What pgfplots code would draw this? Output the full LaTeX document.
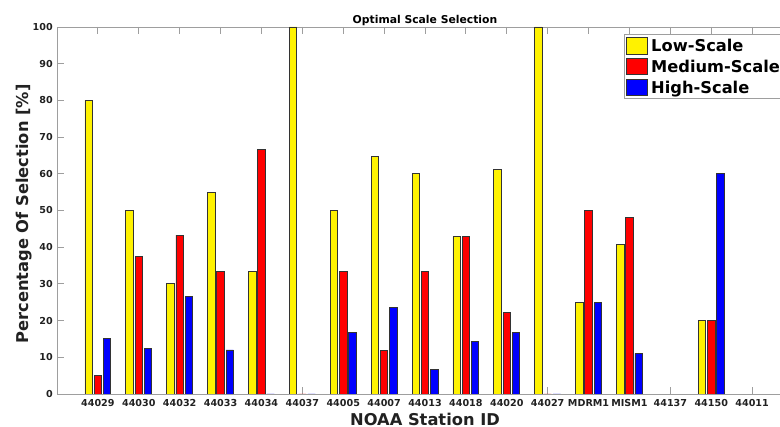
\documentclass[border=0pt]{standalone}
\usepackage{pgfplots}
\pgfplotsset{compat=1.18}
\usepackage{fontspec}
\setmainfont{DejaVu Sans}

\definecolor{edgegray}{gray}{0.2}
\definecolor{axisgray}{gray}{0.62}
\definecolor{textgray}{gray}{0.13}

\pgfplotsset{
  sqlegend/.style={legend image code/.code={\draw[##1] (0pt,-6.25pt) rectangle (15.75pt,6.25pt);}},
}

\begin{document}
\begin{tikzpicture}
\useasboundingbox (0,0) rectangle (585pt,320.25pt);
\clip (0,0) rectangle (585pt,320.25pt);
\begin{axis}[
  at={(42.75pt,24.75pt)}, anchor=south west,
  scale only axis, width=552pt, height=275.25pt,
  ybar=1.3pt, bar width=5.6pt,
  xmin=0, xmax=18, ymin=0, ymax=100,
  xtick={1,...,17},
  xticklabels={\textbf{44029},\textbf{44030},\textbf{44032},\textbf{44033},\textbf{44034},\textbf{44037},\textbf{44005},\textbf{44007},\textbf{44013},\textbf{44018},\textbf{44020},\textbf{44027},\textbf{MDRM1},\textbf{MISM1},\textbf{44137},\textbf{44150},\textbf{44011}},
  ytick={0,10,...,100},
  yticklabel={\textbf{\pgfmathprintnumber{\tick}}},
  tick align=inside, tick pos=both,
  major tick length=5pt,
  axis line style={axisgray, line width=0.6pt},
  every tick/.style={axisgray, line width=0.6pt},
  /pgf/number format/assume math mode=true,
  ticklabel style={font=\bfseries\fontsize{7.2}{8.5}\selectfont, text=textgray},
  xticklabel style={anchor=base, inner sep=0pt, yshift=-9.75pt},
  yticklabel style={anchor=east, inner sep=0pt, xshift=-3pt},
  title={Optimal Scale Selection},
  title style={font=\bfseries\fontsize{8.1}{9.5}\selectfont, at={(axis description cs:0.5,1)}, anchor=base, inner sep=0pt, yshift=-3.75pt},
  xlabel={NOAA Station ID},
  ylabel={Percentage Of Selection [\%]},
  label style={text=textgray, inner sep=0pt},
  xlabel style={font=\bfseries\fontsize{12.2}{15}\selectfont, at={(axis description cs:0.5,0)}, anchor=base, yshift=-23.3pt},
  ylabel style={font=\bfseries\fontsize{12.2}{15}\selectfont, at={([xshift=-21.75pt,yshift=-2.6pt]axis description cs:0,0.5)}, anchor=base},
  legend style={at={(axis description cs:0.7704,0.981)}, anchor=north west,
    draw=axisgray, line width=0.6pt, fill=white,
    inner xsep=1.5pt, inner ysep=2pt,
    font=\bfseries\fontsize{12.2}{14}\selectfont,
    cells={anchor=west}, nodes={inner sep=0pt, text height=8.9pt, text depth=0pt},
    row sep=2.5pt, column sep=2.25pt},
  legend cell align=left,
]
\addplot[fill=yellow, draw=edgegray, line width=0.6pt, sqlegend] coordinates {
  (1,80) (2,50) (3,30) (4,54.8) (5,33.3) (6,100) (7,50) (8,64.7) (9,60)
  (10,42.9) (11,61.1) (12,100) (13,25) (14,40.7) (16,20)
};
\addplot[fill=red, draw=edgegray, line width=0.6pt, sqlegend] coordinates {
  (1,5) (2,37.5) (3,43.3) (4,33.3) (5,66.7) (6,0) (7,33.3) (8,11.8) (9,33.3)
  (10,42.9) (11,22.2) (12,0) (13,50) (14,48.1) (16,20)
};
\addplot[fill=blue, draw=edgegray, line width=0.6pt, sqlegend] coordinates {
  (1,15.2) (2,12.5) (3,26.7) (4,12) (5,0) (6,0) (7,16.7) (8,23.5) (9,6.7)
  (10,14.3) (11,16.7) (12,0) (13,25) (14,11.1) (16,60)
};
\legend{Low-Scale,Medium-Scale,High-Scale}
\end{axis}
\end{tikzpicture}
\end{document}
